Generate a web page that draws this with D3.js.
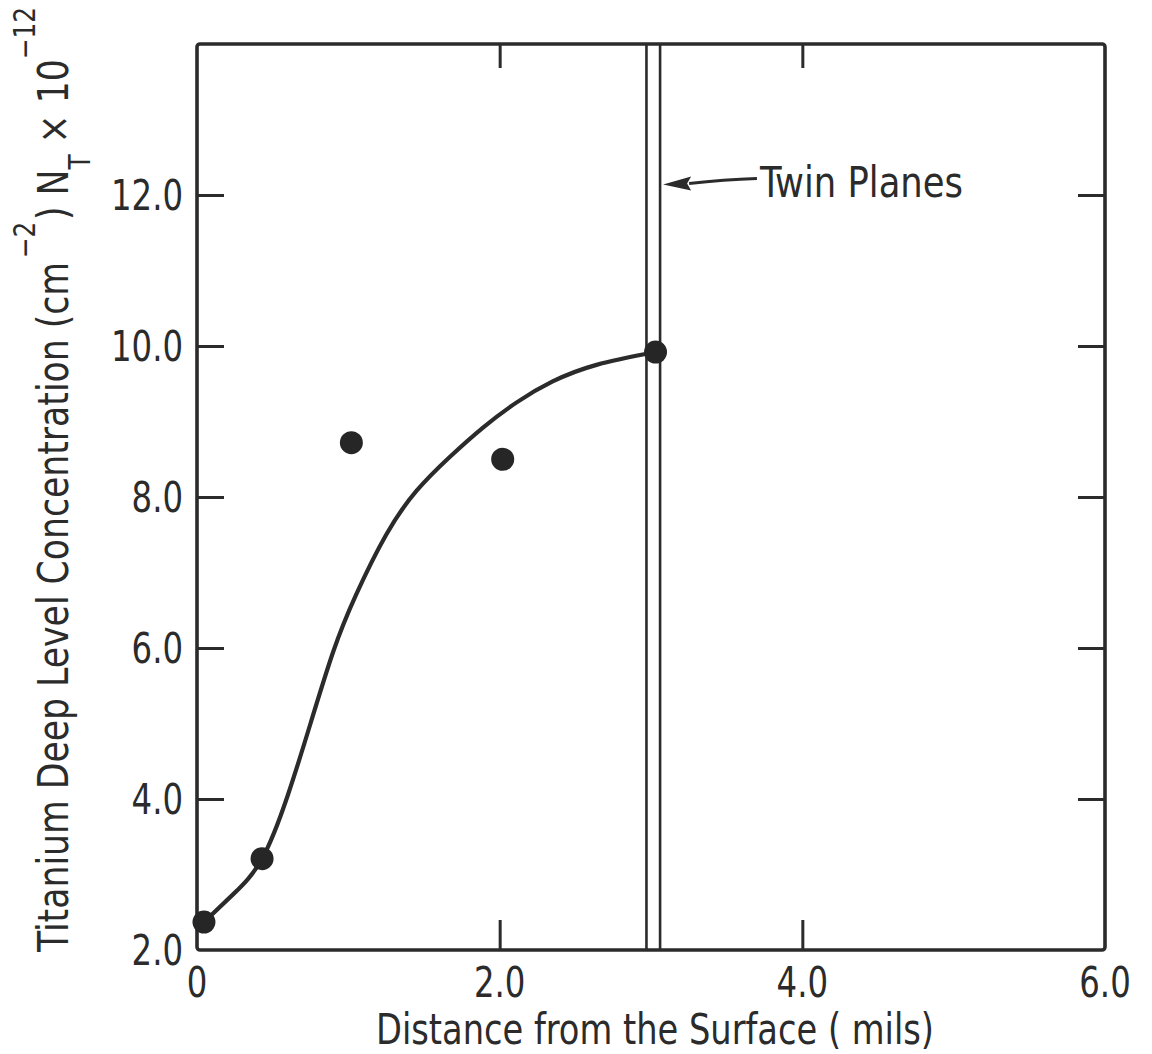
<!DOCTYPE html>
<html>
<head>
<meta charset="utf-8">
<script src="https://cdn.jsdelivr.net/npm/d3@7"></script>
<style>
  html, body { margin: 0; padding: 0; background: #ffffff; }
  svg text { font-family: "Liberation Sans Narrow", "DejaVu Sans Condensed", "DejaVu Sans", sans-serif; fill: #2b2b2b; }
</style>
</head>
<body>
<svg id="chart" width="1152" height="1054"></svg>
<script>
// ---- data ----
const xTickValues = [0, 2, 4, 6];
const xTickLabels = ["0", "2.0", "4.0", "6.0"];
const yTickValues = [2, 4, 6, 8, 10, 12];
const yTickLabels = ["2.0", "4.0", "6.0", "8.0", "10.0", "12.0"];

const measuredX = [0.046, 0.43, 1.02, 2.02, 3.03];
const measuredY = [2.37, 3.21, 8.72, 8.50, 9.92];

const curveX = [0.046, 0.24, 0.43, 0.60, 0.75, 0.90, 1.05, 1.25, 1.45, 1.67, 1.89, 2.11, 2.35, 2.64, 3.03];
const curveY = [2.37, 2.74, 3.21, 4.05, 5.00, 5.95, 6.70, 7.50, 8.08, 8.53, 8.92, 9.25, 9.53, 9.75, 9.92];

const twinPlanes = [2.97, 3.06];
const annotationText = "Twin Planes";
const arrowFrom = [3.70, 12.22];   // data units: start of arrow (near label)
const arrowTip = [3.08, 12.14];    // data units: arrow tip at right twin plane
const labelPos = [3.72, 11.98];    // data units: label baseline start

const xTitle = "Distance from the Surface ( mils)";

// ---- layout ----
const ink = "#2b2b2b";
const svg = d3.select("#chart");
const x = d3.scaleLinear().domain([0, 6]).range([197, 1105]);
const y = d3.scaleLinear().domain([2, 14]).range([950, 44]);

function fit(sel, w) {
  sel.attr("textLength", w).attr("lengthAdjust", "spacingAndGlyphs");
}

// twin planes
svg.append("g").selectAll("line").data(twinPlanes).join("line")
  .attr("x1", d => x(d)).attr("x2", d => x(d))
  .attr("y1", y(14)).attr("y2", y(2))
  .attr("stroke", ink).attr("stroke-width", 2.6);

// axes ticks (inward)
const tickLen = 27;
function drawTicks(axisGen, transform, vals) {
  const g = svg.append("g").attr("transform", transform).call(axisGen.tickValues(vals).tickSizeOuter(0).tickFormat(""));
  g.select(".domain").remove();
  g.selectAll(".tick line").attr("stroke", ink).attr("stroke-width", 3);
  return g;
}
drawTicks(d3.axisLeft(y).tickSizeInner(-tickLen), `translate(${x(0)},0)`, [4, 6, 8, 10, 12]);
drawTicks(d3.axisRight(y).tickSizeInner(-tickLen), `translate(${x(6)},0)`, [4, 6, 8, 10, 12]);
drawTicks(d3.axisBottom(x).tickSizeInner(-30), `translate(0,${y(2)})`, [2, 4]);
drawTicks(d3.axisTop(x).tickSizeInner(-24), `translate(0,${y(14)})`, [2, 4]);

// frame
svg.append("rect")
  .attr("x", x(0)).attr("y", y(14))
  .attr("width", x(6) - x(0)).attr("height", y(2) - y(14))
  .attr("rx", 3)
  .attr("fill", "none").attr("stroke", ink).attr("stroke-width", 3.6);

// tick labels
const fs = 42;
const yl = svg.append("g").selectAll("text").data(yTickValues).join("text")
  .attr("x", 183).attr("y", d => y(d) + 15)
  .attr("text-anchor", "end").attr("font-size", fs)
  .text((d, i) => yTickLabels[i]);
const xl = svg.append("g").selectAll("text").data(xTickValues).join("text")
  .attr("x", d => x(d)).attr("y", 997)
  .attr("text-anchor", "middle").attr("font-size", fs)
  .text((d, i) => xTickLabels[i]);
const refW = yl.filter(d => d === 12).node().getComputedTextLength();
const k = 72 / refW;
yl.each(function() { const w = this.getComputedTextLength(); fit(d3.select(this), w * k); });
xl.each(function() { const w = this.getComputedTextLength(); fit(d3.select(this), w * k); });

// curve
const line = d3.line().x(d => x(d[0])).y(d => y(d[1])).curve(d3.curveNatural);
svg.append("path")
  .datum(curveX.map((v, i) => [v, curveY[i]]))
  .attr("d", line)
  .attr("fill", "none").attr("stroke", ink).attr("stroke-width", 4.2).attr("stroke-linecap", "round");

// points
svg.append("g").selectAll("circle").data(measuredX.map((v, i) => [v, measuredY[i]])).join("circle")
  .attr("cx", d => x(d[0])).attr("cy", d => y(d[1])).attr("r", 11.5)
  .attr("fill", "#262626");

// annotation arrow
const ax0 = x(arrowFrom[0]), ay0 = y(arrowFrom[1]);
const ax1 = x(arrowTip[0]), ay1 = y(arrowTip[1]);
const headLen = 28, headHalf = 7;
const bx = ax1 + headLen;
svg.append("path")
  .attr("d", `M${ax0},${ay0} Q${(ax0 + bx) / 2},${ay0 + 1} ${bx - 2},${ay1 - 1}`)
  .attr("fill", "none").attr("stroke", ink).attr("stroke-width", 3);
svg.append("path")
  .attr("d", `M${ax1},${ay1} L${bx},${ay1 - headHalf - 1} L${bx - 4},${ay1 - 1} L${bx},${ay1 + headHalf - 1} Z`)
  .attr("fill", ink);
const ann = svg.append("text").attr("x", x(labelPos[0])).attr("y", y(labelPos[1]))
  .attr("font-size", fs).text(annotationText);
fit(ann, 203);

// x title
const xt = svg.append("text").attr("x", 376).attr("y", 1044).attr("font-size", fs).text(xTitle);
fit(xt, 558);

// y title (rotated)
const yg = svg.append("g").attr("transform", "translate(68,952) rotate(-90)");
const yt = yg.append("text").attr("x", 0).attr("y", 0).attr("font-size", fs);
yt.append("tspan").text("Titanium Deep Level Concentration (cm");
yt.append("tspan").attr("font-size", 30).attr("dy", -33).attr("dx", 4).text("\u22122");
yt.append("tspan").attr("dy", 33).attr("dx", 2).text(")");
yt.append("tspan").attr("dx", 12).text("N");
yt.append("tspan").attr("font-size", 30).attr("dy", 22).text("T");
yt.append("tspan").attr("dy", -22).text(" \u00d7 10");
yt.append("tspan").attr("font-size", 30).attr("dy", -33).text("\u221212");
fit(yt, 945);
</script>
</body>
</html>
